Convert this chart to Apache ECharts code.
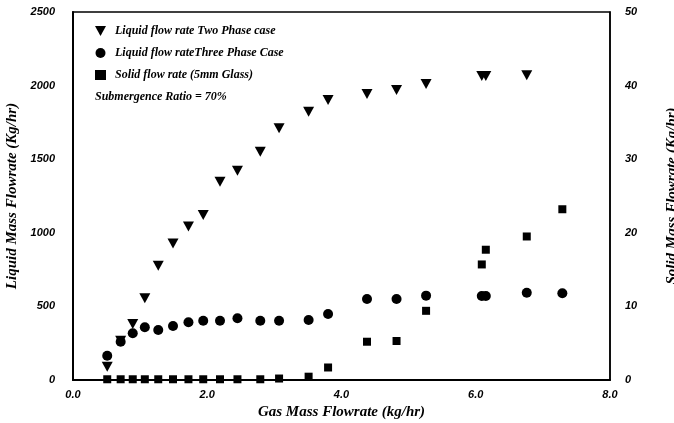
<!DOCTYPE html>
<html>
<head>
<meta charset="utf-8">
<script src="https://cdn.jsdelivr.net/npm/echarts@6/dist/echarts.min.js"></script>
<style>
  html, body { margin: 0; padding: 0; background: #fff; }
  #chart { width: 674px; height: 423px; }
</style>
</head>
<body>
<div id="chart"></div>
<script>
// gas mass flowrate (kg/hr) for each run
var gasFlow = [0.51, 0.71, 0.89, 1.07, 1.27, 1.49, 1.72, 1.94, 2.19, 2.45, 2.79, 3.07, 3.51, 3.80, 4.38, 4.82, 5.26, 6.09, 6.15, 6.76, 7.29];
// liquid flow, two phase case (no run at 7.29)
var liquidTwoPhase = [90, 267, 380, 555, 776, 928, 1042, 1121, 1347, 1422, 1551, 1710, 1823, 1902, 1943, 1970, 2011, 2065, 2065, 2070];
// liquid flow, three phase case
var liquidThreePhase = [165, 260, 317, 358, 340, 367, 392, 403, 403, 419, 403, 403, 408, 448, 550, 550, 573, 571, 571, 593, 589];
// solid flow (right axis)
var solidFlow = [0.1, 0.1, 0.1, 0.1, 0.1, 0.1, 0.1, 0.1, 0.1, 0.1, 0.1, 0.2, 0.45, 1.7, 5.2, 5.3, 9.4, 15.7, 17.7, 19.5, 23.2];

var legendNames = ['Liquid flow rate Two Phase case', 'Liquid flow rateThree Phase Case', 'Solid flow rate (5mm Glass)'];
var noteText = 'Submergence Ratio = 70%';

var downTri = 'path://M0,0 L10,0 L5,9 Z';
var sansNum = { fontFamily: 'Liberation Sans', fontStyle: 'italic', fontWeight: 'bold', fontSize: 11, color: '#000' };
var serifTitle = { fontFamily: 'Liberation Serif', fontStyle: 'italic', fontWeight: 'bold', fontSize: 15, color: '#000' };

function pairs(xs, ys) {
  var out = [];
  for (var i = 0; i < ys.length; i++) out.push([xs[i], ys[i]]);
  return out;
}

var chart = echarts.init(document.getElementById('chart'));
chart.setOption({
  animation: false,
  grid: {
    left: 73, right: 64, top: 12, bottom: 43,
    outerBoundsMode: 'none', containLabel: false,
    show: true, borderColor: '#000', borderWidth: 1.5
  },
  legend: {
    orient: 'vertical',
    left: 90, top: 20,
    itemGap: 10,
    itemWidth: 11, itemHeight: 10,
    data: [
      { name: legendNames[0], icon: downTri },
      { name: legendNames[1], icon: 'circle' },
      { name: legendNames[2], icon: 'rect' }
    ],
    textStyle: { fontFamily: 'Liberation Serif', fontStyle: 'italic', fontWeight: 'bold', fontSize: 12, color: '#000', padding: [0, 0, 0, 4] }
  },
  graphic: [{
    type: 'text', left: 95, top: 91,
    style: { text: noteText, font: 'italic bold 12px "Liberation Serif"', fill: '#000' }
  }],
  xAxis: {
    type: 'value', min: 0, max: 8, interval: 2,
    name: 'Gas Mass Flowrate (kg/hr)', nameLocation: 'middle', nameGap: 25,
    nameTextStyle: serifTitle,
    axisLine: { lineStyle: { color: '#000', width: 2 } },
    axisTick: { show: false },
    splitLine: { show: false },
    axisLabel: Object.assign({ margin: 9, formatter: function (v) { return v.toFixed(1); } }, sansNum)
  },
  yAxis: [{
    type: 'value', min: 0, max: 2500, interval: 500,
    name: 'Liquid Mass Flowrate (Kg/hr)', nameLocation: 'middle', nameGap: 52,
    nameTextStyle: serifTitle,
    axisLine: { show: true, lineStyle: { color: '#000', width: 2 } },
    axisTick: { show: false },
    splitLine: { show: false },
    axisLabel: Object.assign({ margin: 18, formatter: function (v) { return String(v); } }, sansNum)
  }, {
    type: 'value', min: 0, max: 50, interval: 10, position: 'right',
    name: 'Solid Mass Flowrate (Kg/hr)', nameLocation: 'middle', nameGap: 55, nameRotate: 90,
    nameTextStyle: serifTitle,
    axisLine: { show: true, lineStyle: { color: '#000', width: 1.5 } },
    axisTick: { show: false },
    splitLine: { show: false },
    axisLabel: Object.assign({ margin: 15, formatter: function (v) { return String(v); } }, sansNum)
  }],
  series: [{
    name: legendNames[0], type: 'scatter', yAxisIndex: 0,
    symbol: downTri, symbolSize: [11, 10],
    itemStyle: { color: '#000', opacity: 1 },
    data: pairs(gasFlow, liquidTwoPhase)
  }, {
    name: legendNames[1], type: 'scatter', yAxisIndex: 0,
    symbol: 'circle', symbolSize: 10,
    itemStyle: { color: '#000', opacity: 1 },
    data: pairs(gasFlow, liquidThreePhase)
  }, {
    name: legendNames[2], type: 'scatter', yAxisIndex: 1,
    symbol: 'rect', symbolSize: 8,
    itemStyle: { color: '#000', opacity: 1 },
    data: pairs(gasFlow, solidFlow)
  }]
});
</script>
</body>
</html>
